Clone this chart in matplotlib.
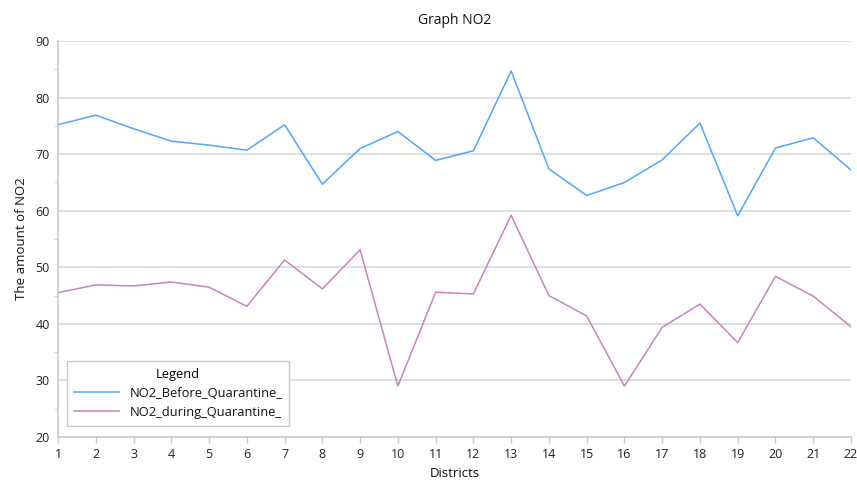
import matplotlib
matplotlib.use("Agg")
import matplotlib.pyplot as plt
from matplotlib.ticker import MultipleLocator

# data
districts = list(range(1, 23))
no2_before = [75.2, 76.9, 74.5, 72.3, 71.6, 70.7, 75.2, 64.7, 71.0, 74.0, 68.9,
              70.6, 84.7, 67.4, 62.7, 65.0, 69.0, 75.5, 59.1, 71.1, 72.9, 67.2]
no2_during = [45.5, 46.9, 46.7, 47.4, 46.5, 43.1, 51.3, 46.2, 53.1, 29.0, 45.6,
              45.3, 59.2, 45.0, 41.4, 29.0, 39.4, 43.5, 36.7, 48.4, 44.9, 39.5]

plt.rcParams["font.family"] = ["Open Sans", "DejaVu Sans"]

fig = plt.figure(figsize=(8.57, 4.83), dpi=100)
ax = fig.add_axes([0.0677, 0.0952, 0.9253, 0.8198])

ax.plot(districts, no2_before, color="#4da6ff", lw=1.1, label="NO2_Before_Quarantine_")
ax.plot(districts, no2_during, color="#c884bd", lw=1.1, label="NO2_during_Quarantine_")

ax.set_xlim(1, 22)
ax.set_ylim(20, 90)
ax.set_xticks(districts)
ax.yaxis.set_major_locator(MultipleLocator(10))
ax.yaxis.set_minor_locator(MultipleLocator(5))
ax.grid(axis="y", which="major", color="#d9d9d9", lw=1.2)
ax.set_axisbelow(True)

for side in ["top", "right"]:
    ax.spines[side].set_visible(False)
for side in ["left", "bottom"]:
    ax.spines[side].set_color("#c8c8c8")
    ax.spines[side].set_linewidth(1.2)

ax.tick_params(axis="both", which="major", labelsize=9, colors="#c8c8c8",
               labelcolor="#222222", length=4, width=1)
ax.tick_params(axis="x", which="major", pad=4)
ax.tick_params(axis="y", which="major", length=0, pad=6)
ax.tick_params(axis="y", which="minor", length=3, colors="#c8c8c8")

ax.set_title("Graph NO2", fontsize=10, color="#111111", pad=12)
ax.set_xlabel("Districts", fontsize=9.5, color="#111111", labelpad=4)
ax.set_ylabel("The amount of NO2", fontsize=9.5, color="#111111", labelpad=5)

leg = ax.legend(loc="lower left", bbox_to_anchor=(0.003, 0.012), title="Legend",
                fontsize=9.3, title_fontsize=9.3, fancybox=False,
                edgecolor="#c8c8c8", framealpha=1, handlelength=3.5,
                borderpad=0.55, labelspacing=0.45)
leg.get_frame().set_linewidth(1.0)
for t in leg.get_texts():
    t.set_color("#111111")

fig.savefig("out.png", dpi=100)
